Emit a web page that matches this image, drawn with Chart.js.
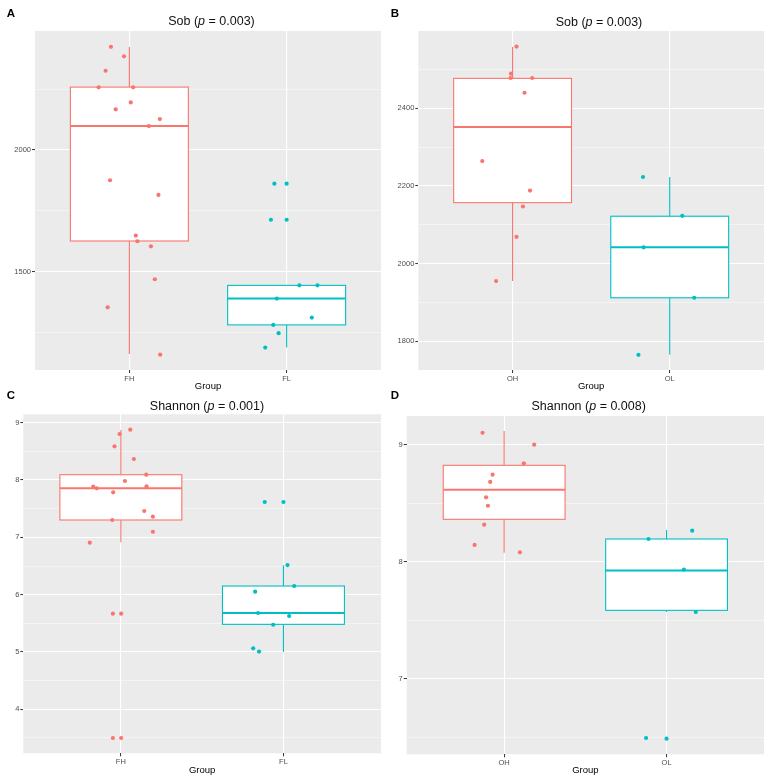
<!DOCTYPE html>
<html>
<head>
<meta charset="utf-8">
<script src="https://cdn.jsdelivr.net/npm/chart.js@4.4.0/dist/chart.umd.min.js"></script>
<style>
  html, body { margin: 0; padding: 0; background: #ffffff; }
  body { width: 767px; height: 776px; position: relative; overflow: hidden; font-family: "Liberation Sans", Arial, sans-serif; }
  canvas { position: absolute; }
  .lbl { position: absolute; font-weight: bold; font-size: 11.5px; line-height: 1; color: #000; }
  .ttl { position: absolute; width: 220px; text-align: center; font-size: 12.5px; line-height: 1; color: #111; white-space: nowrap; }
</style>
</head>
<body>
<canvas id="cA" width="384" height="392" style="left:0px;top:0px"></canvas>
<canvas id="cB" width="383" height="392" style="left:384px;top:0px"></canvas>
<canvas id="cC" width="384" height="384" style="left:0px;top:392px"></canvas>
<canvas id="cD" width="383" height="384" style="left:384px;top:392px"></canvas>

<div class="lbl" style="left:6.7px;top:7.6px">A</div>
<div class="lbl" style="left:390.7px;top:7.6px">B</div>
<div class="lbl" style="left:6.7px;top:390.3px">C</div>
<div class="lbl" style="left:390.7px;top:390.3px">D</div>

<div class="ttl" style="left:101.5px;top:15.4px">Sob (<i>p</i> = 0.003)</div>
<div class="ttl" style="left:489px;top:15.9px">Sob (<i>p</i> = 0.003)</div>
<div class="ttl" style="left:97px;top:399.9px">Shannon (<i>p</i> = 0.001)</div>
<div class="ttl" style="left:478.7px;top:399.9px">Shannon (<i>p</i> = 0.008)</div>

<script>
// ---------------- DATA ----------------
const groupColors = ['#F8766D', '#00BFC4'];
const xTitle = 'Group';

// Panel A : Sob, FH vs FL
const catsA = ['FH', 'FL'];
const aFH = [2423, 2384, 2325, 2257, 2257, 2195, 2167, 2127, 2098, 1876, 1816, 1649, 1626, 1605, 1470, 1355, 1161];
const aFHjit = [-0.117, -0.034, -0.151, -0.195, 0.024, 0.009, -0.087, 0.194, 0.124, -0.123, 0.185, 0.041, 0.051, 0.137, 0.162, -0.138, 0.196];
const aFL = [1862, 1862, 1714, 1714, 1445, 1445, 1391, 1313, 1283, 1249, 1190];
const aFLjit = [-0.078, 0, -0.100, 0, 0.081, 0.196, -0.062, 0.160, -0.085, -0.051, -0.136];
// box stats: [lower whisker, Q1, median, Q3, upper whisker]
const aFHbox = [1164, 1627, 2098, 2258, 2422];
const aFLbox = [1190, 1283, 1391, 1445, 1445];
const aRange = [1098, 2488];
const aMajor = [1500, 2000];
const aMinor = [1250, 1750, 2250];

// Panel B : Sob, OH vs OL
const catsB = ['OH', 'OL'];
const bOH = [2559, 2489, 2478, 2478, 2440, 2264, 2188, 2147, 2069, 1955];
const bOHjit = [0.025, -0.010, -0.013, 0.125, 0.076, -0.193, 0.111, 0.066, 0.025, -0.105];
const bOL = [2223, 2123, 2042, 1912, 1765];
const bOLjit = [-0.170, 0.080, -0.166, 0.156, -0.199];
const bOHbox = [1955, 2157, 2352, 2477, 2558];
const bOLbox = [1765, 1912, 2042, 2122, 2223];
const bRange = [1726, 2599];
const bMajor = [1800, 2000, 2200, 2400];
const bMinor = [1900, 2100, 2300, 2500];

// Panel C : Shannon, FH vs FL
const catsC = ['FH', 'FL'];
const cFH = [8.878, 8.803, 8.588, 8.367, 8.093, 7.983, 7.884, 7.890, 7.855, 7.785, 7.460, 7.360, 7.303, 7.098, 6.907, 5.668, 5.668, 3.499, 3.499];
const cFHjit = [0.058, -0.008, -0.039, 0.080, 0.156, 0.025, -0.170, 0.158, -0.148, -0.047, 0.144, 0.197, -0.053, 0.197, -0.191, -0.049, 0.002, -0.049, 0.002];
const cFL = [7.617, 7.617, 6.517, 6.151, 6.052, 5.680, 5.628, 5.475, 5.063, 5.007];
const cFLjit = [-0.115, 0, 0.025, 0.066, -0.174, -0.156, 0.035, -0.063, -0.186, -0.150];
const cFHbox = [6.914, 7.303, 7.855, 8.093, 8.873];
const cFLbox = [5.0, 5.482, 5.680, 6.151, 6.512];
const cRange = [3.232, 9.147];
const cMajor = [4, 5, 6, 7, 8, 9];
const cMinor = [3.5, 4.5, 5.5, 6.5, 7.5, 8.5];

// Panel D : Shannon, OH vs OL
const catsD = ['OH', 'OL'];
const dOH = [9.102, 9.0, 8.841, 8.744, 8.682, 8.551, 8.479, 8.317, 8.144, 8.081];
const dOHjit = [-0.133, 0.185, 0.121, -0.071, -0.086, -0.111, -0.100, -0.123, -0.182, 0.097];
const dOL = [8.195, 8.266, 7.934, 7.572, 6.496, 6.490];
const dOLjit = [-0.111, 0.158, 0.107, 0.180, -0.126, 0];
const dOHbox = [8.078, 8.363, 8.616, 8.824, 9.117];
const dOLbox = [7.572, 7.586, 7.925, 8.195, 8.272];
const dRange = [6.357, 9.245];
const dMajor = [7, 8, 9];
const dMinor = [6.5, 7.5, 8.5];

// ---------------- PLUGINS ----------------
const panelBg = {
  id: 'panelBg',
  beforeDraw(chart) {
    const { ctx, chartArea: a } = chart;
    ctx.save();
    ctx.fillStyle = '#EBEBEB';
    ctx.fillRect(a.left, a.top, a.right - a.left, a.bottom - a.top);
    ctx.restore();
  }
};

const boxPlot = {
  id: 'boxPlot',
  beforeDatasetsDraw(chart, args, opts) {
    const { ctx, scales: { x, y } } = chart;
    opts.stats.forEach((st, i) => {
      const c = i + 1;
      const [lo, q1, med, q3, hi] = st;
      const xl = x.getPixelForValue(c - opts.width / 2);
      const xr = x.getPixelForValue(c + opts.width / 2);
      const xc = x.getPixelForValue(c);
      const yLo = y.getPixelForValue(lo), yQ1 = y.getPixelForValue(q1);
      const yMed = y.getPixelForValue(med), yQ3 = y.getPixelForValue(q3);
      const yHi = y.getPixelForValue(hi);
      ctx.save();
      ctx.strokeStyle = opts.colors[i];
      ctx.lineWidth = 1.1;
      ctx.beginPath();
      ctx.moveTo(xc, yHi); ctx.lineTo(xc, yQ3);
      ctx.moveTo(xc, yQ1); ctx.lineTo(xc, yLo);
      ctx.stroke();
      ctx.fillStyle = '#ffffff';
      ctx.fillRect(xl, yQ3, xr - xl, yQ1 - yQ3);
      ctx.strokeRect(xl, yQ3, xr - xl, yQ1 - yQ3);
      ctx.lineWidth = 2;
      ctx.beginPath();
      ctx.moveTo(xl, yMed); ctx.lineTo(xr, yMed);
      ctx.stroke();
      ctx.restore();
    });
  }
};

// ---------------- BUILDER ----------------
function makePanel(id, cats, values, jitters, boxes, range, major, minor, geo) {
  const datasets = values.map((vals, g) => ({
    data: vals.map((v, k) => ({ x: g + 1 + jitters[g][k], y: v })),
    backgroundColor: groupColors[g],
    borderWidth: 0,
    pointRadius: 2.1,
    pointHoverRadius: 2.1
  }));
  const isMajor = v => major.some(m => Math.abs(m - v) < 1e-9);
  new Chart(document.getElementById(id), {
    type: 'scatter',
    data: { datasets },
    options: {
      responsive: false,
      animation: false,
      devicePixelRatio: 1,
      events: [],
      layout: { padding: { top: geo.top, right: geo.right, left: 0, bottom: 0 } },
      plugins: {
        legend: { display: false },
        tooltip: { enabled: false },
        boxPlot: { stats: boxes, colors: groupColors, width: 0.75 }
      },
      scales: {
        x: {
          type: 'linear',
          min: 0.4,
          max: 2.6,
          afterBuildTicks: s => { s.ticks = cats.map((c, i) => ({ value: i + 1 })); },
          afterFit: s => { s.height = geo.xh; },
          ticks: {
            autoSkip: false, maxRotation: 0, padding: 1,
            color: '#4D4D4D',
            font: { family: '"Liberation Sans", Arial, sans-serif', size: 7.5 },
            callback: v => cats[Math.round(v) - 1]
          },
          grid: { color: '#ffffff', lineWidth: 1.1, tickColor: '#333333', tickLength: 3, tickWidth: 1 },
          border: { display: false },
          title: {
            display: true, text: xTitle, color: '#000000',
            font: { family: '"Liberation Sans", Arial, sans-serif', size: 9.5 },
            padding: { top: 0, bottom: 0 }
          }
        },
        y: {
          type: 'linear',
          min: range[0],
          max: range[1],
          afterBuildTicks: s => {
            s.ticks = [...minor, ...major].sort((a, b) => a - b).map(v => ({ value: v }));
          },
          afterFit: s => { s.width = geo.yw; },
          ticks: {
            autoSkip: false, padding: 1,
            color: '#4D4D4D',
            font: { family: '"Liberation Sans", Arial, sans-serif', size: 7.5 },
            callback: v => isMajor(v) ? String(v) : ''
          },
          grid: {
            color: ctx => isMajor(ctx.tick.value) ? '#ffffff' : 'rgba(255,255,255,0.75)',
            lineWidth: ctx => isMajor(ctx.tick.value) ? 1.1 : 0.6,
            tickColor: ctx => isMajor(ctx.tick.value) ? '#333333' : 'rgba(0,0,0,0)',
            tickLength: 3, tickWidth: 1
          },
          border: { display: false }
        }
      }
    },
    plugins: [panelBg, boxPlot]
  });
}

makePanel('cA', catsA, [aFH, aFL], [aFHjit, aFLjit], [aFHbox, aFLbox], aRange, aMajor, aMinor,
  { top: 31, right: 3, yw: 35, xh: 22 });
makePanel('cB', catsB, [bOH, bOL], [bOHjit, bOLjit], [bOHbox, bOLbox], bRange, bMajor, bMinor,
  { top: 31, right: 3, yw: 34.3, xh: 22 });
makePanel('cC', catsC, [cFH, cFL], [cFHjit, cFLjit], [cFHbox, cFLbox], cRange, cMajor, cMinor,
  { top: 22.3, right: 3, yw: 23.3, xh: 22.7 });
makePanel('cD', catsD, [dOH, dOL], [dOHjit, dOLjit], [dOHbox, dOLbox], dRange, dMajor, dMinor,
  { top: 24, right: 3, yw: 22.7, xh: 21.7 });
</script>
</body>
</html>
